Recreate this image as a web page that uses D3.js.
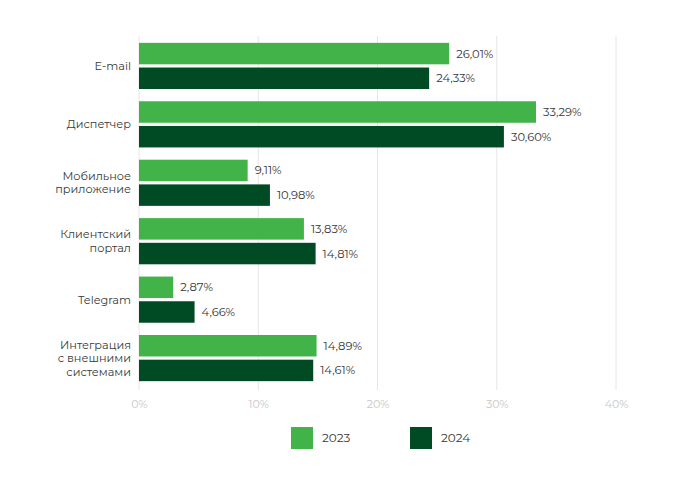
<!DOCTYPE html>
<html><head><meta charset="utf-8">
<script src="https://cdn.jsdelivr.net/npm/d3@7"></script>
<style>
body{margin:0;background:#fff;}
text{font-family:"Montserrat","Open Sans",sans-serif;}
</style></head>
<body><svg id="c" width="683" height="484"></svg>
<script>
const categories = [["E-mail"],["Диспетчер"],["Мобильное","приложение"],["Клиентский","портал"],["Telegram"],["Интеграция","с внешними","системами"]];
const series = ["2023","2024"];
const values2023 = [26.01,33.29,9.11,13.83,2.87,14.89];
const values2024 = [24.33,30.60,10.98,14.81,4.66,14.61];
const tickValues = [0,10,20,30,40];
const colors = ["#41b349","#004b23"];

const svg = d3.select("#c");
const x = d3.scaleLinear().domain([0,40]).range([139,616]);
const y = d3.scaleBand().domain(d3.range(categories.length)).range([37,387]).paddingInner(0.21).paddingOuter(0.1);
const y1 = d3.scaleBand().domain(series).range([0,y.bandwidth()]).paddingInner(0.13);

// grid
svg.append("g").selectAll("line").data(tickValues).join("line")
  .attr("x1",d=>x(d)).attr("x2",d=>x(d)).attr("y1",36).attr("y2",390)
  .attr("stroke","#e6e6e6").attr("stroke-width",1);

// axis labels
const ax = svg.append("g").attr("transform","translate(0,404)").call(d3.axisBottom(x).tickValues(tickValues).tickFormat(d=>d+"%").tickSize(0));
ax.select(".domain").remove();
ax.selectAll("text").attr("fill","#c8c8c8").attr("font-size",11).attr("dy","0.35em").attr("y",0).style("font-family",'"Montserrat","Open Sans",sans-serif');

const data = [values2023, values2024];
const fmt = v => v.toFixed(2).replace(".",",")+"%";
const g = svg.append("g");
categories.forEach((cat,i)=>{
  series.forEach((s,j)=>{
    const v = data[j][i];
    g.append("rect").attr("x",x(0)).attr("y",y(i)+y1(s)).attr("width",x(v)-x(0)).attr("height",y1.bandwidth()).attr("fill",colors[j]);
    g.append("text").attr("x",x(v)+7).attr("y",y(i)+y1(s)+y1.bandwidth()/2).attr("dy","0.35em")
      .attr("font-size",11.5).attr("fill","#383838").text(fmt(v));
  });
  const cy = y(i)+y.bandwidth()/2;
  const lh = 13.5;
  const t = g.append("text").attr("x",131).attr("text-anchor","end").attr("font-size",11.3).attr("fill","#383838");
  cat.forEach((line,k)=>{
    t.append("tspan").attr("x",131).attr("y",cy + (k-(cat.length-1)/2)*lh).attr("dy","0.35em").text(line);
  });
});

// legend
const lx = [291,410];
series.forEach((s,j)=>{
  svg.append("rect").attr("x",lx[j]).attr("y",427).attr("width",22).attr("height",22).attr("fill",colors[j]);
  svg.append("text").attr("x",lx[j]+31).attr("y",438).attr("dy","0.35em").attr("font-size",12).attr("fill","#383838").text(s);
});
</script></body></html>
